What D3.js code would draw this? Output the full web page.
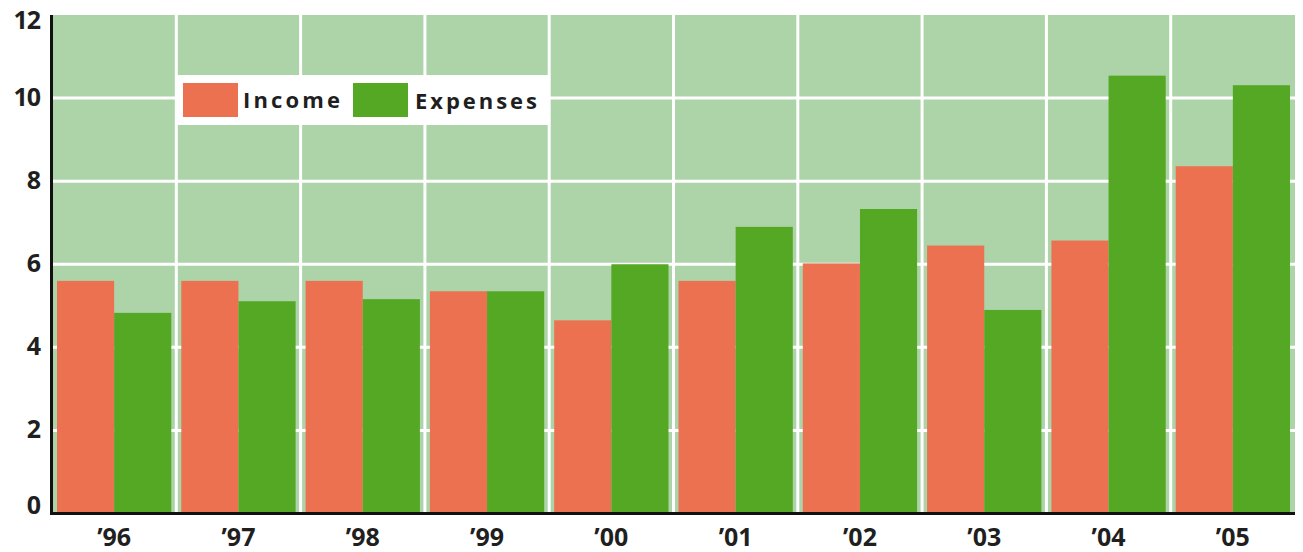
<!DOCTYPE html>
<html>
<head>
<meta charset="utf-8">
<script src="https://cdn.jsdelivr.net/npm/d3@7/dist/d3.min.js"></script>
<style>
  html, body { margin: 0; padding: 0; background: #ffffff; }
  svg { display: block; }
  text { font-family: "Open Sans", Lato, "DejaVu Sans", sans-serif; font-weight: 700; fill: #1f1f1f; }
</style>
</head>
<body>
<svg id="chart" width="1303" height="552"></svg>
<script>
const years = ["’96", "’97", "’98", "’99", "’00", "’01", "’02", "’03", "’04", "’05"];
const seriesNames = ["Income", "Expenses"];
const income   = [5.6, 5.6, 5.6, 5.35, 4.65, 5.6, 6.02, 6.45, 6.57, 8.36];
const expenses = [4.83, 5.11, 5.16, 5.35, 6.0, 6.9, 7.33, 4.9, 10.54, 10.31];
const yTicks = [0, 2, 4, 6, 8, 10, 12];
const colors = { Income: "#ec7150", Expenses: "#55a823" };

const svg = d3.select("#chart");
const plotLeft = 52, plotRight = 1295, plotTop = 15, plotBottom = 513.5;

const x = d3.scaleBand().domain(years).range([plotLeft, plotRight]).padding(0);
const xs = d3.scaleBand().domain(seriesNames).range([5, x.bandwidth() - 5]).padding(0);
const y = d3.scaleLinear().domain([0, 12]).range([plotBottom, plotTop]);

// plot background
svg.append("rect")
  .attr("x", plotLeft).attr("y", plotTop)
  .attr("width", plotRight - plotLeft).attr("height", plotBottom - plotTop)
  .attr("fill", "#add4a9");

// horizontal grid
svg.append("g").selectAll("line")
  .data(yTicks.filter(v => v > 0 && v < 12))
  .join("line")
  .attr("x1", plotLeft).attr("x2", plotRight)
  .attr("y1", d => y(d)).attr("y2", d => y(d))
  .attr("stroke", "#ffffff").attr("stroke-width", 3);

// vertical grid
svg.append("g").selectAll("line")
  .data(years.slice(1))
  .join("line")
  .attr("x1", d => x(d)).attr("x2", d => x(d))
  .attr("y1", plotTop).attr("y2", plotBottom)
  .attr("stroke", "#ffffff").attr("stroke-width", 3);

// bars
const data = years.map((yr, i) => ({ year: yr, Income: income[i], Expenses: expenses[i] }));
const groups = svg.append("g").selectAll("g")
  .data(data).join("g")
  .attr("transform", d => `translate(${x(d.year)},0)`);
groups.selectAll("rect")
  .data(d => seriesNames.map(k => ({ key: k, value: d[k] })))
  .join("rect")
  .attr("x", d => xs(d.key))
  .attr("width", xs.bandwidth())
  .attr("y", d => y(d.value))
  .attr("height", d => y(0) - y(d.value))
  .attr("fill", d => colors[d.key]);

// axes lines
svg.append("line")
  .attr("x1", 51.5).attr("x2", 51.5).attr("y1", plotTop).attr("y2", plotBottom + 1.5)
  .attr("stroke", "#111").attr("stroke-width", 3);
svg.append("line")
  .attr("x1", 50).attr("x2", plotRight).attr("y1", plotBottom).attr("y2", plotBottom)
  .attr("stroke", "#111").attr("stroke-width", 3);

// y tick labels
svg.append("g").selectAll("text")
  .data(yTicks).join("text")
  .attr("x", 40)
  .attr("y", d => y(d) + (d === 12 ? 14 : (d === 0 ? 0 : 8)))
  .attr("text-anchor", "end")
  .attr("font-size", 25)
  .attr("letter-spacing", -1)
  .text(d => d);

// x tick labels
svg.append("g").selectAll("text")
  .data(years).join("text")
  .attr("x", d => x(d) + x.bandwidth() / 2)
  .attr("y", 545.5)
  .attr("text-anchor", "middle")
  .attr("font-size", 25)
  .attr("letter-spacing", 0)
  .text(d => d);

// legend
const lg = svg.append("g");
lg.append("rect").attr("x", 177).attr("y", 75).attr("width", 371).attr("height", 50).attr("fill", "#ffffff");
const legendItems = [
  { key: "Income", sx: 183, tx: 243, tw: 97, ty: 107.5 },
  { key: "Expenses", sx: 353, tx: 415, tw: 122, ty: 109 }
];
lg.selectAll("rect.sw").data(legendItems).join("rect")
  .attr("class", "sw")
  .attr("x", d => d.sx).attr("y", 83)
  .attr("width", 55).attr("height", 34)
  .attr("fill", d => colors[d.key]);
lg.selectAll("text").data(legendItems).join("text")
  .attr("x", d => d.tx).attr("y", d => d.ty)
  .attr("font-size", 22)
  .attr("textLength", d => d.tw)
  .attr("lengthAdjust", "spacing")
  .text(d => d.key);
</script>
</body>
</html>
